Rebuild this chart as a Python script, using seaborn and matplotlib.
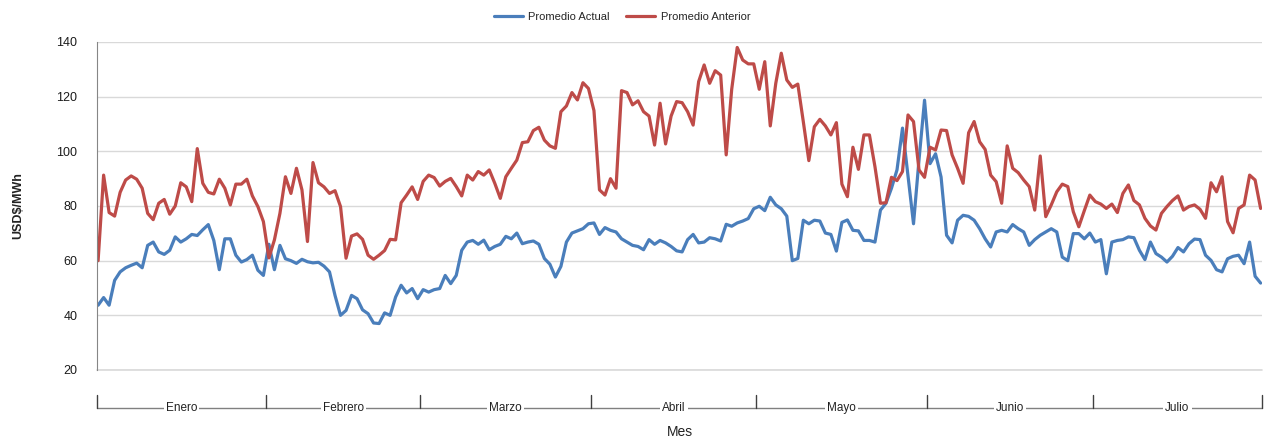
import numpy as np
import pandas as pd

import seaborn as sns
import matplotlib
matplotlib.use('Agg')
import matplotlib.pyplot as plt
import matplotlib.transforms as mtransforms

# meses del eje x y numero de dias de cada uno
meses = ['Enero', 'Febrero', 'Marzo', 'Abril', 'Mayo', 'Junio', 'Julio']
dias_mes = [31, 28, 31, 30, 31, 30, 31]

# Promedio Actual (USD$/MWh), valores diarios por mes
actual_ene = [43.7, 46.5, 43.7, 52.8, 55.9, 57.4, 58.3, 59.1, 57.4, 65.6, 66.8, 63.2, 62.3, 63.8, 68.7, 66.8,
              68.0, 69.6, 69.2, 71.3, 73.2, 67.4, 56.7, 68.0, 68.0, 62.0, 59.5, 60.4, 62.0, 56.5, 54.6]
actual_feb = [66.0, 56.7, 65.6, 60.7, 60.0, 59.0, 60.5, 59.6, 59.2, 59.4, 58.0, 55.9, 47.3, 40.0, 41.8, 47.3,
              46.1, 42.0, 40.6, 37.2, 37.0, 40.9, 40.0, 46.7, 51.0, 48.2, 49.8, 46.1]
actual_mar = [49.4, 48.5, 49.4, 49.8, 54.6, 51.6, 54.6, 63.8, 66.8, 67.4, 66.0, 67.5, 64.0, 65.2, 66.0, 68.9,
              68.0, 70.1, 66.2, 66.8, 67.2, 66.0, 60.8, 58.7, 54.0, 57.9, 66.8, 70.1, 70.9, 71.7, 73.5]
actual_abr = [73.8, 69.6, 72.1, 71.1, 70.5, 68.0, 66.8, 65.6, 65.2, 64.0, 67.7, 66.0, 67.4, 66.5, 65.2, 63.6,
              63.2, 67.7, 69.6, 66.5, 66.8, 68.4, 68.0, 67.2, 73.3, 72.6, 73.8, 74.5, 75.4, 79.0]
actual_may = [79.9, 78.3, 83.2, 80.4, 79.0, 76.3, 60.0, 60.8, 74.8, 73.5, 74.8, 74.5, 70.1, 69.6, 63.5, 74.0,
              74.9, 71.1, 70.9, 67.4, 67.4, 66.8, 78.5, 81.0, 86.5, 93.2, 108.5, 91.0, 73.5, 97.0, 118.7]
actual_jun = [95.5, 99.1, 90.6, 69.3, 66.5, 74.8, 76.6, 76.2, 74.8, 71.7, 68.0, 65.0, 70.5, 71.1, 70.5, 73.2,
              71.7, 70.5, 65.6, 67.7, 69.3, 70.5, 71.7, 70.5, 61.3, 60.0, 69.9, 69.9, 68.0, 70.1]
actual_jul = [66.8, 67.7, 55.2, 66.8, 67.4, 67.7, 68.7, 68.4, 63.8, 60.4, 66.8, 62.6, 61.3, 59.5, 61.6, 64.8,
              63.2, 66.2, 67.9, 67.7, 62.0, 60.1, 56.7, 55.9, 60.7, 61.6, 62.0, 58.9, 66.8, 54.3, 51.8]

# Promedio Anterior (USD$/MWh), valores diarios por mes
anterior_ene = [60.0, 91.3, 77.6, 76.3, 85.0, 89.5, 91.0, 89.8, 86.5, 77.3, 75.0, 81.0, 82.4, 77.0, 80.0, 88.5,
                87.0, 81.6, 101.0, 88.3, 85.0, 84.4, 89.8, 86.5, 80.4, 88.0, 88.0, 89.8, 83.7, 79.8, 74.3]
anterior_feb = [61.0, 67.6, 77.3, 90.7, 84.6, 93.8, 85.9, 67.0, 95.9, 88.5, 87.0, 84.6, 85.6, 79.8, 60.9, 69.0,
                69.8, 67.8, 62.0, 60.5, 62.0, 63.7, 67.8, 67.6, 81.2, 84.0, 87.0, 82.4]
anterior_mar = [89.0, 91.3, 90.4, 87.3, 89.0, 90.1, 87.1, 83.7, 91.3, 89.5, 92.6, 91.3, 93.2, 88.3, 82.8, 90.7,
                93.8, 96.8, 103.2, 103.5, 107.6, 108.8, 104.1, 102.0, 101.1, 114.5, 116.6, 121.5, 118.8, 125.1, 123.0]
anterior_abr = [114.9, 85.9, 84.0, 90.0, 86.5, 122.2, 121.5, 117.0, 118.5, 114.5, 112.9, 102.3, 117.6, 102.7, 112.9,
                118.2, 117.8, 114.5, 109.6, 125.5, 131.6, 124.9, 129.5, 127.9, 98.7, 122.7, 138.0, 133.4, 132.0, 132.0]
anterior_may = [122.7, 132.8, 109.3, 124.9, 135.9, 126.1, 123.4, 124.6, 110.8, 96.6, 109.0, 111.7, 109.3, 106.0,
                110.5, 88.0, 83.4, 101.5, 93.4, 106.0, 106.0, 94.4, 81.0, 81.2, 90.5, 89.3, 92.6, 113.3, 110.9,
                93.2, 90.5]
anterior_jun = [101.5, 100.5, 107.8, 107.6, 98.7, 93.8, 88.3, 106.8, 110.9, 103.5, 100.7, 91.3, 88.9, 81.0, 102.0,
                93.8, 92.2, 89.5, 87.1, 78.5, 98.3, 76.1, 80.4, 85.2, 88.0, 87.1, 77.9, 72.4, 78.3, 84.0]
anterior_jul = [81.6, 80.7, 79.1, 80.7, 77.6, 84.6, 87.7, 82.0, 80.4, 75.5, 72.7, 71.2, 77.3, 79.8, 82.0, 83.7,
                78.5, 79.8, 80.4, 78.8, 75.5, 88.5, 85.2, 90.7, 74.3, 70.2, 79.1, 80.4, 91.3, 89.5, 79.1]

series = ['Promedio Actual', 'Promedio Anterior']
colores = {'Promedio Actual': '#4A7EBB', 'Promedio Anterior': '#BE4B48'}

actual = actual_ene + actual_feb + actual_mar + actual_abr + actual_may + actual_jun + actual_jul
anterior = anterior_ene + anterior_feb + anterior_mar + anterior_abr + anterior_may + anterior_jun + anterior_jul
n = len(actual)

df = pd.DataFrame({
    'dia': list(range(n)) * 2,
    'valor': actual + anterior,
    'serie': [series[0]] * n + [series[1]] * n,
})

sns.set_style('white')
plt.rcParams['font.family'] = ['Liberation Sans', 'DejaVu Sans']

W, H = 1264, 437
fig = plt.figure(figsize=(W / 100, H / 100), dpi=100)
ax = fig.add_axes([97 / W, 1 - 370 / H, (1262 - 97) / W, (370 - 42) / H])

sns.lineplot(data=df, x='dia', y='valor', hue='serie', hue_order=series, palette=colores,
             linewidth=2.3, ax=ax)

ax.set_xlim(-0.2, n - 0.75)
ax.set_ylim(20, 140)
ax.set_yticks(range(20, 141, 20))
ax.yaxis.grid(True, color='#D9D9D9', linewidth=1)
# la linea de 20 queda en el borde del eje, se dibuja aparte
ax.axhline(20, color='#D9D9D9', linewidth=1.2, clip_on=False, zorder=0)
ax.set_xticks([])
ax.set_xlabel('')
ax.set_ylabel('')
for s in ['top', 'right', 'bottom']:
    ax.spines[s].set_visible(False)
ax.spines['left'].set_color('#868686')
ax.tick_params(axis='y', direction='out', length=4, color='#868686', pad=10, labelsize=9, labelcolor='#1a1a1a')

sns.move_legend(ax, 'center', bbox_to_anchor=((622 - 97) / 1165, 1 + 25 / 328), ncol=2, title=None,
                frameon=False, fontsize=8, handlelength=2.6, handletextpad=0.5, columnspacing=1.5)

# eje de meses tipo "llave" debajo del grafico
trans = mtransforms.blended_transform_factory(ax.transData, ax.transAxes)
y_linea = -38 / 328
y_tick = -25 / 328
limites = [-0.2] + list(np.cumsum(dias_mes)[:-1] - 0.5) + [n - 0.75]
ax.plot([limites[0], limites[-1]], [y_linea, y_linea], color='#808080', lw=1, transform=trans, clip_on=False)
for b in limites:
    ax.plot([b, b], [y_tick, y_linea], color='#404040', lw=1, transform=trans, clip_on=False)
for i, mes in enumerate(meses):
    centro = (limites[i] + limites[i + 1]) / 2
    ax.text(centro, y_linea, mes, transform=trans, ha='center', va='center', fontsize=8.5,
            color='#222222', bbox=dict(facecolor='white', edgecolor='none', pad=1.5))

ax.text(0.5, -62 / 328, 'Mes', transform=ax.transAxes, ha='center', va='center', fontsize=10, color='#222222')
fig.text(18 / W, 1 - 206 / H, 'USD$/MWh', rotation=90, ha='center', va='center', fontsize=9,
         fontweight='bold', color='#222222')

plt.savefig('out.png', dpi=100)
